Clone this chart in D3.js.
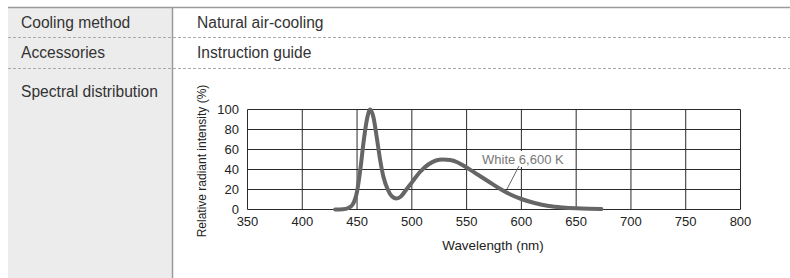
<!DOCTYPE html>
<html>
<head>
<meta charset="utf-8">
<script src="https://cdn.jsdelivr.net/npm/d3@7.9.0/dist/d3.min.js"></script>
<style>
  body { margin: 0; background: #fff; }
  svg { display: block; font-family: "Liberation Sans", Arial, sans-serif; }
</style>
</head>
<body>
<svg width="790" height="278"></svg>
<script>
// table rows
const rowLabels = ["Cooling method", "Accessories", "Spectral distribution"];
const rowValues = ["Natural air-cooling", "Instruction guide", ""];

// spectrum (wavelength nm, relative intensity %)
const wavelengths = [430, 437, 442, 446, 450, 453, 456, 459, 462, 465, 468, 471, 474, 478, 482, 486, 490, 495, 500, 507, 515, 522, 528, 535, 542, 550, 560, 570, 580, 590, 600, 612, 625, 638, 650, 662, 673];
const intensity =   [0,   0.3, 1.5, 5,   18,  40,  68,  90,  100, 92,  72,  50,  33,  20,  13,  11,  13,  20,  27,  37,  45,  49,  50,  49.5, 47, 42,  35,  28,  21,  15,  10.5, 6.5, 3.5, 2,  1.2, 0.7, 0.4];

const xTicks = [350, 400, 450, 500, 550, 600, 650, 700, 750, 800];
const yTicks = [0, 20, 40, 60, 80, 100];
const seriesLabel = "White 6,600 K";

const svg = d3.select("svg");

// table frame
svg.append("rect").attr("x", 8).attr("y", 7).attr("width", 164).attr("height", 271).attr("fill", "#ececec");
svg.append("line").attr("x1", 8).attr("x2", 790).attr("y1", 7.5).attr("y2", 7.5)
  .attr("stroke", "#9a9a9a").attr("stroke-width", 1.5);
svg.append("line").attr("x1", 172.5).attr("x2", 172.5).attr("y1", 7).attr("y2", 278)
  .attr("stroke", "#9a9a9a").attr("stroke-width", 1.5);

[37.5, 68.5].forEach(y => {
  svg.append("line").attr("x1", 8).attr("x2", 790).attr("y1", y).attr("y2", y)
    .attr("stroke", "#aaa").attr("stroke-width", 1).attr("stroke-dasharray", "3,2");
});
const baselines = [27.5, 58, 97];
rowLabels.forEach((t, i) => {
  svg.append("text").attr("x", 21).attr("y", baselines[i]).attr("font-size", 15.6).attr("fill", "#333").text(t);
  if (rowValues[i]) svg.append("text").attr("x", 197).attr("y", baselines[i]).attr("font-size", 15.6).attr("fill", "#333").text(rowValues[i]);
});

// chart
const x = d3.scaleLinear().domain([350, 800]).range([247.5, 740.5]);
const y = d3.scaleLinear().domain([0, 100]).range([209.5, 109.5]);
const g = svg.append("g");

g.selectAll(".vg").data(xTicks).enter().append("line")
  .attr("x1", d => x(d)).attr("x2", d => x(d)).attr("y1", y(0)).attr("y2", y(100))
  .attr("stroke", "#2a2a2a").attr("stroke-width", 1);
g.selectAll(".hg").data(yTicks).enter().append("line")
  .attr("x1", x(350)).attr("x2", x(800)).attr("y1", d => y(d)).attr("y2", d => y(d))
  .attr("stroke", "#2a2a2a").attr("stroke-width", 1);

g.selectAll(".xl").data(xTicks).enter().append("text")
  .attr("x", d => x(d)).attr("y", 226).attr("text-anchor", "middle")
  .attr("font-size", 13).attr("fill", "#222").text(d => d);
g.selectAll(".yl").data(yTicks).enter().append("text")
  .attr("x", 239).attr("y", d => y(d) + 4.5).attr("text-anchor", "end")
  .attr("font-size", 13).attr("fill", "#222").text(d => d);

svg.append("text").attr("x", 493).attr("y", 250).attr("text-anchor", "middle")
  .attr("font-size", 13.4).attr("fill", "#222").text("Wavelength (nm)");
svg.append("text").attr("transform", "translate(206,161) rotate(-90)").attr("text-anchor", "middle")
  .attr("font-size", 12).attr("fill", "#222").text("Relative radiant intensity (%)");

const pts = wavelengths.map((w, i) => [w, intensity[i]]);
const line = d3.line().x(d => x(d[0])).y(d => y(d[1])).curve(d3.curveMonotoneX);

// label box
const lb = svg.append("g");
lb.append("rect").attr("x", 480).attr("y", 151).attr("width", 87).attr("height", 16).attr("fill", "#fff");
lb.append("text").attr("x", 482).attr("y", 163.5).attr("font-size", 13).attr("fill", "#777").text(seriesLabel);
lb.append("line").attr("x1", 519).attr("y1", 166).attr("x2", 507).attr("y2", 189)
  .attr("stroke", "#666").attr("stroke-width", 1);

svg.append("path").datum(pts).attr("d", line).attr("fill", "none")
  .attr("stroke", "#666").attr("stroke-width", 4).attr("stroke-linecap", "round").attr("stroke-linejoin", "round");
</script>
</body>
</html>
